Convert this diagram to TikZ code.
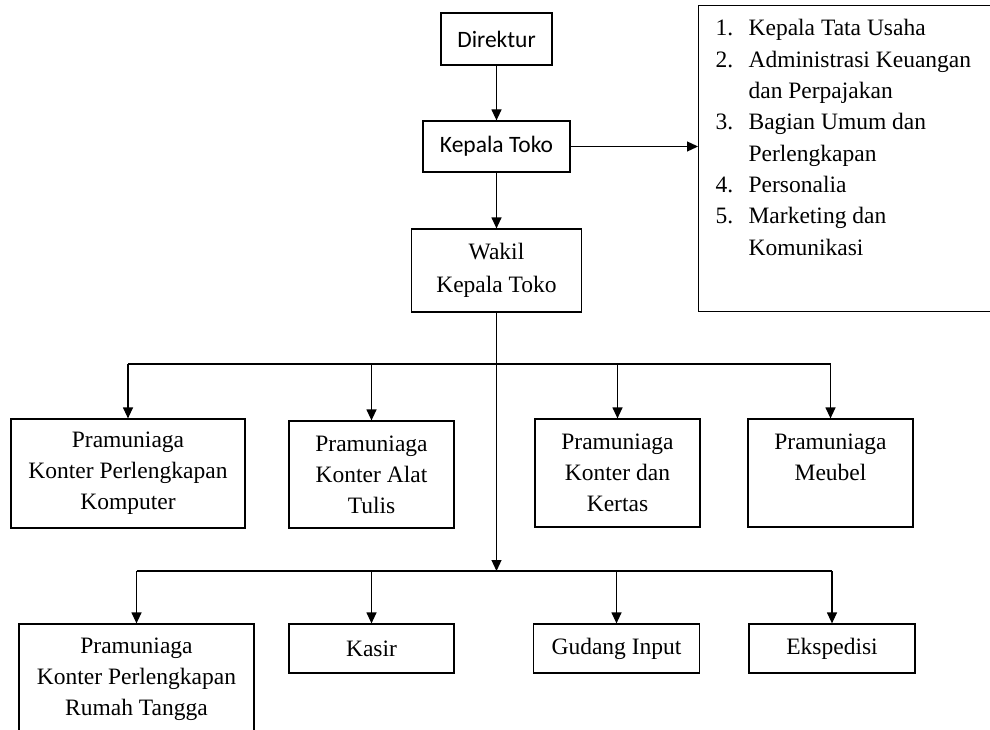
\documentclass[tikz,border=0pt]{standalone}
\usepackage{fontspec}
\setmainfont{Liberation Serif}
\newfontfamily\calibri{Carlito}
\usetikzlibrary{arrows.meta}

\begin{document}
\begin{tikzpicture}[x=1pt, y=-1pt, >={Triangle[length=11pt,width=10pt]}, line width=1.2pt,
  every node/.style={font=\fontsize{23.5}{31}\selectfont},
  box/.style={draw, align=center, inner sep=0pt},
  sans/.style={font=\fontsize{23.5}{31}\selectfont\calibri}]
  \useasboundingbox (0,0) rectangle (990,730);
  \clip (0,0) rectangle (990,730);
  \node[box, sans, minimum width=111pt, minimum height=52pt] (direktur) at (496.5,39) {Direktur};
  \node[box, sans, minimum width=147pt, minimum height=51pt] (kepala) at (496.5,146.5) {Kepala Toko};
  \node[box, minimum width=170pt, minimum height=83pt, font=\fontsize{23.5}{33}\selectfont] (wakil) at (496.5,270.5) {Wakil\\Kepala Toko};
  \node[draw, anchor=north west, inner xsep=17pt, inner ysep=14pt] (staf) at (698,5)
    {\parbox[c][278pt][t]{300pt}{\baselineskip=31.3pt
      \makebox[33pt][l]{1.}Kepala Tata Usaha\\
      \makebox[33pt][l]{2.}Administrasi Keuangan\\
      \hspace*{33pt}dan Perpajakan\\
      \makebox[33pt][l]{3.}Bagian Umum dan\\
      \hspace*{33pt}Perlengkapan\\
      \makebox[33pt][l]{4.}Personalia\\
      \makebox[33pt][l]{5.}Marketing dan\\
      \hspace*{33pt}Komunikasi}};
  \node[box, minimum width=234pt, minimum height=109pt] (komputer) at (128,473.5) {Pramuniaga\\Konter Perlengkapan\\Komputer};
  \node[box, minimum width=165pt, minimum height=107pt] (alat) at (371.5,474.5) {Pramuniaga\\Konter Alat\\Tulis};
  \node[box, minimum width=165pt, minimum height=108pt] (kertas) at (617.5,473) {Pramuniaga\\Konter dan\\Kertas};
  \node[box, minimum width=165pt, minimum height=108pt] (meubel) at (830.5,473) {Pramuniaga\\Meubel\\\mbox{}};
  \node[box, minimum width=235pt, minimum height=110pt] (rumah) at (136.5,679) {Pramuniaga\\Konter Perlengkapan\\Rumah Tangga};
  \node[box, minimum width=165pt, minimum height=49pt] (kasir) at (371.5,648.5) {Kasir};
  \node[box, minimum width=166pt, minimum height=49pt] (gudang) at (616.5,648.5) {Gudang Input};
  \node[box, minimum width=166pt, minimum height=49pt] (ekspedisi) at (832,648.5) {Ekspedisi};
  \coordinate (atas) at (496.5,364);
  \coordinate (bawah) at (496.5,571);
  \draw[->] (direktur) -- (kepala);
  \draw[->] (kepala) -- (wakil);
  \draw[->] (kepala.east) -- (kepala.east -| staf.west);
  \draw[->] (wakil) -- (bawah);
  \draw (atas -| komputer.north) -- (atas -| meubel.north);
  \foreach \n in {komputer,alat,kertas,meubel}
    \draw[->] (atas -| \n.north) -- (\n.north);
  \draw (bawah -| rumah.north) -- (bawah -| ekspedisi.north);
  \foreach \n in {rumah,kasir,gudang,ekspedisi}
    \draw[->] (bawah -| \n.north) -- (\n.north);
\end{tikzpicture}
\end{document}
